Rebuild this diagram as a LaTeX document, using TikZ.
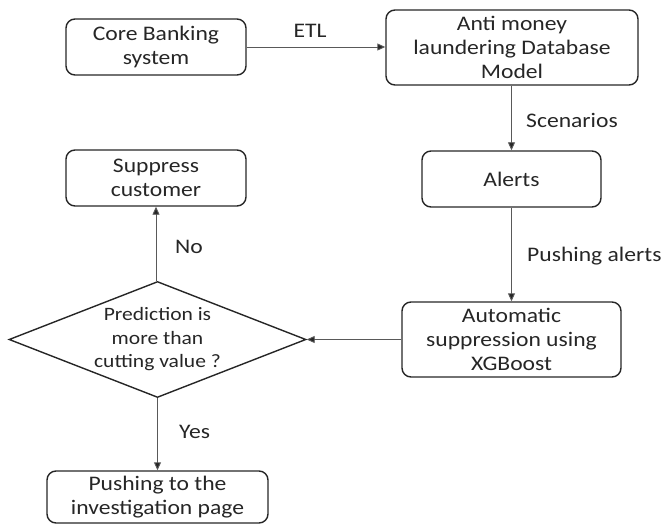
\documentclass[tikz,border=0pt]{standalone}
\usepackage{fontspec}
\setmainfont{Carlito}[FakeStretch=1.14]
\usetikzlibrary{shapes.geometric,arrows.meta}
\begin{document}
\begin{tikzpicture}[x=1pt,y=-1pt,
  box/.style={draw=black!85, line width=1.4pt, rounded corners=9pt, align=center,
    font=\fontsize{20.7}{24}\selectfont, inner sep=0pt, text=black!85},
  conn/.style={draw=black!65, line width=0.9pt, -{Triangle[length=8pt,width=7pt,fill=black!85]}},
  lbl/.style={font=\fontsize{20.7}{24}\selectfont, inner sep=0pt, text=black!85}]
\useasboundingbox (0,0) rectangle (661,524);
\node[box, minimum width=180pt, minimum height=56pt] (core) at (156,47) {Core Banking\\system};
\node[box, minimum width=252pt, minimum height=75pt] (aml) at (512,47.5) {Anti money\\laundering Database\\Model};
\node[box, minimum width=179pt, minimum height=56pt] (alerts) at (511.5,179) {Alerts};
\node[box, minimum width=180pt, minimum height=56pt] (supp) at (156,178) {Suppress\\customer};
\node[box, minimum width=219pt, minimum height=75pt] (auto) at (511.5,339.5) {Automatic\\suppression using\\XGBoost};
\node[diamond, draw=black!85, line width=1.4pt, minimum width=297pt, minimum height=116pt,
  inner sep=0pt, aspect=2.5, align=center, text=black!85,
  font=\fontsize{18.9}{23.5}\selectfont] (dec) at (157.5,339.5) {Prediction is\\more than\\cutting value ?};
\node[box, minimum width=221pt, minimum height=52pt] (push) at (157.5,497) {Pushing to the\\investigation page};
\draw[conn] (core.east) -- (aml.west |- core.east);
\draw[conn] (aml.south -| alerts.north) -- (alerts.north);
\draw[conn] (alerts.south) -- (auto.north -| alerts.south);
\draw[conn] (auto.west) -- (dec.east);
\draw[conn] (dec.north -| supp.south) -- (supp.south);
\draw[conn] (dec.south) -- (push.north -| dec.south);
\node[lbl] (etl) at (310,31) {ETL};
\node[lbl, anchor=west] (scen) at (526,120) {Scenarios};
\node[lbl, anchor=west] (pa) at (527,256) {Pushing alerts};
\node[lbl, anchor=west] (no) at (175,247) {No};
\node[lbl, anchor=west] (yes) at (179,432) {Yes};
\end{tikzpicture}
\end{document}
